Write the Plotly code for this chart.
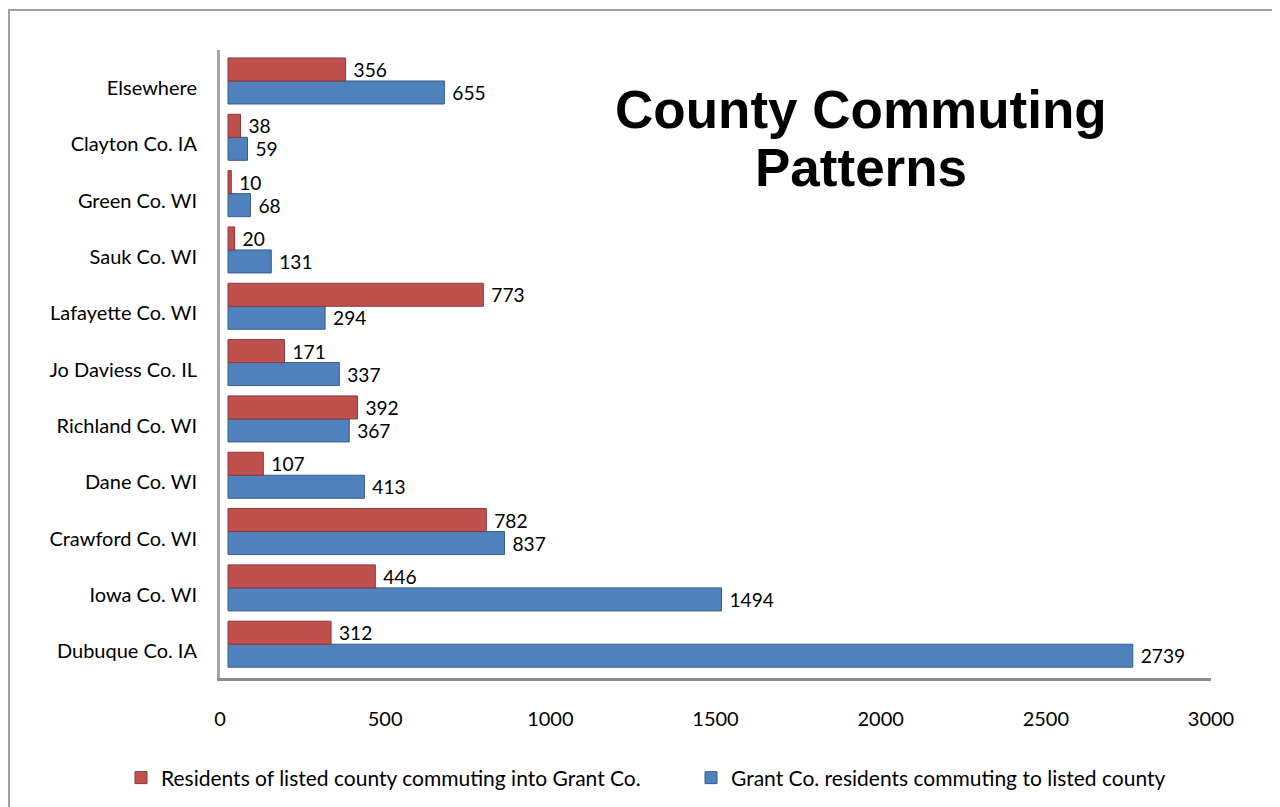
import plotly.graph_objects as go

categories = ["Dubuque Co. IA", "Iowa Co. WI", "Crawford Co. WI", "Dane Co. WI",
              "Richland Co. WI", "Jo Daviess Co. IL", "Lafayette Co. WI", "Sauk Co. WI",
              "Green Co. WI", "Clayton Co. IA", "Elsewhere"]
residents_into_grant = [312, 446, 782, 107, 392, 171, 773, 20, 10, 38, 356]
grant_to_listed = [2739, 1494, 837, 413, 367, 337, 294, 131, 68, 59, 655]
x_ticks = [0, 500, 1000, 1500, 2000, 2500, 3000]

RED = "#C0504D"
BLUE = "#4F81BD"
FONT = "Lato"
FS = 20

# page has an 8px body margin, so the figure is laid out in (screen - 8) pixels
W, H = 1272, 799
L, R, T, B = 212, 69, 42, 129
pw = W - L - R
ph = H - T - B
units_per_px = 3000 / pw
depth_units = 8 * units_per_px          # 3-D wall depth: bars start a little right of the 0 tick
cat_px = ph / 11.15
label_shift = 7 / cat_px                # category labels sit slightly below bar centres

fig = go.Figure()
fig.add_trace(go.Bar(
    y=categories, x=grant_to_listed, orientation="h",
    name="Grant Co. residents commuting to listed county",
    marker=dict(color=BLUE, line=dict(color="#385D8A", width=1)),
    text=grant_to_listed, texttemplate=" %{text}", textposition="outside", cliponaxis=False,
    textfont=dict(family=FONT, size=FS, color="black"),
    legend="legend2",
))
fig.add_trace(go.Bar(
    y=categories, x=residents_into_grant, orientation="h",
    name="Residents of listed county commuting into Grant Co.",
    marker=dict(color=RED, line=dict(color="#8C3836", width=1)),
    text=residents_into_grant, texttemplate=" %{text}", textposition="outside", cliponaxis=False,
    textfont=dict(family=FONT, size=FS, color="black"),
    legend="legend",
))
# invisible carrier so the tick/label axes (x2, y2) are drawn
fig.add_trace(go.Scatter(
    x=grant_to_listed, y=categories, xaxis="x2", yaxis="y2", mode="markers",
    marker=dict(opacity=0, size=1), showlegend=False, hoverinfo="skip",
))


def px_x(p):
    return (p - L) / pw


def px_y(p):
    return (H - B - p) / ph


legend_common = dict(orientation="h", xref="container", yref="container",
                     xanchor="left", yanchor="middle", itemwidth=30,
                     font=dict(family=FONT, size=21, color="black"),
                     bgcolor="rgba(0,0,0,0)")

fig.update_layout(
    width=W, height=H,
    margin=dict(l=L, r=R, t=T, b=B),
    paper_bgcolor="white", plot_bgcolor="white",
    barmode="group", bargap=0.183, bargroupgap=0,
    font=dict(family=FONT, size=FS, color="black"),
    showlegend=True,
    legend=dict(x=113 / W, y=1 - 770 / H, **legend_common),
    legend2=dict(x=683 / W, y=1 - 770 / H, **legend_common),
    xaxis=dict(range=[-depth_units, 3000 - depth_units], showticklabels=False,
               showgrid=False, zeroline=False, showline=False, ticks=""),
    xaxis2=dict(range=[0, 3000], tickvals=x_ticks, ticktext=[str(v) for v in x_ticks],
                overlaying="x", anchor="y2", side="bottom",
                showgrid=False, zeroline=False, showline=True, linecolor="#8C8C8C",
                linewidth=3, ticks="", ticklabelstandoff=21,
                tickfont=dict(family=FONT, size=FS, color="black")),
    yaxis=dict(range=[-0.6, 10.55], showgrid=False, zeroline=False, showline=True,
               showticklabels=False, linecolor="#A6A6A6", linewidth=3, ticks=""),
    yaxis2=dict(type="category", categoryarray=categories, categoryorder="array",
                range=[-0.6 + label_shift, 10.55 + label_shift],
                overlaying="y", anchor="x2", side="left",
                showgrid=False, zeroline=False, showline=False, ticks="",
                ticklabelstandoff=22,
                tickfont=dict(family=FONT, size=FS, color="black")),
    shapes=[dict(type="rect", xref="paper", yref="paper",
                 x0=px_x(1), x1=px_x(1300), y0=px_y(830), y1=px_y(2),
                 line=dict(color="#A0A0A0", width=2), fillcolor="rgba(0,0,0,0)", layer="below")],
    annotations=[
        dict(text="<b>County Commuting</b>", xref="paper", yref="paper",
             x=px_x(853), y=px_y(102), showarrow=False, xanchor="center", yanchor="middle",
             font=dict(family="Liberation Sans", size=53, color="black")),
        dict(text="<b>Patterns</b>", xref="paper", yref="paper",
             x=px_x(853), y=px_y(160), showarrow=False, xanchor="center", yanchor="middle",
             font=dict(family="Liberation Sans", size=53, color="black")),
    ],
)

fig.write_html("out.html")
